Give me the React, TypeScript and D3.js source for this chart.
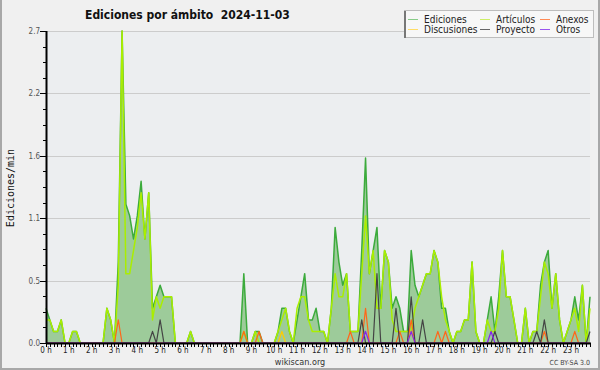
import React from 'react';
import * as d3 from 'd3';

// edits per minute, one value every 10 minutes (00:00 .. 23:50)
const ediciones = [
  0.3, 0.2, 0.1, 0.1, 0.2, 0, 0, 0.1, 0.1, 0, 0, 0,
  0, 0, 0, 0, 0.3, 0.2, 0, 0.7, 2.7, 1.2, 1.1, 0.9,
  1.1, 1.4, 0.9, 1.3, 0.3, 0.4, 0.5, 0.4, 0.4, 0.4, 0, 0,
  0, 0, 0.1, 0, 0, 0, 0, 0, 0, 0, 0, 0,
  0, 0, 0, 0, 0.6, 0, 0, 0.1, 0.1, 0, 0, 0,
  0, 0.1, 0.3, 0.3, 0.1, 0, 0.2, 0.4, 0.6, 0.2, 0.2, 0.3,
  0.1, 0.1, 0, 0.3, 1.0, 0.7, 0.5, 0.6, 0.1, 0.1, 0.1, 0.8,
  1.6, 0.6, 0.8, 1.0, 0.3, 0.8, 0.7, 0.3, 0.4, 0.3, 0.1, 0.1,
  0.8, 0.5, 0.4, 0.5, 0.6, 0.6, 0.8, 0.7, 0.3, 0.3, 0.1, 0,
  0.1, 0.1, 0.2, 0.2, 0.7, 0.1, 0, 0, 0.2, 0.4, 0.1, 0.4,
  0.8, 0.4, 0.4, 0.2, 0, 0, 0.3, 0, 0.1, 0.1, 0.5, 0.7,
  0.8, 0.3, 0.6, 0.2, 0, 0.1, 0.2, 0.4, 0.2, 0.5, 0, 0.4,
];

const articulos = [
  0.2, 0.2, 0.1, 0.1, 0.2, 0, 0, 0.1, 0.1, 0, 0, 0,
  0, 0, 0, 0, 0.3, 0.2, 0, 0.5, 2.7, 0.6, 0.6, 0.8,
  1.0, 1.3, 0.9, 1.3, 0.2, 0.4, 0.3, 0.4, 0.4, 0.4, 0, 0,
  0, 0, 0.1, 0, 0, 0, 0, 0, 0, 0, 0, 0,
  0, 0, 0, 0, 0.1, 0, 0, 0.1, 0, 0, 0, 0,
  0, 0.1, 0.2, 0.3, 0.1, 0, 0.3, 0.4, 0.4, 0.2, 0.1, 0.1,
  0.1, 0.1, 0, 0.3, 0.6, 0.4, 0.4, 0.6, 0.1, 0.1, 0.1, 0.6,
  1.1, 0.6, 0.8, 0.3, 0.3, 0.8, 0.7, 0.2, 0.1, 0.1, 0.1, 0.1,
  0.1, 0.3, 0.4, 0.5, 0.6, 0.6, 0.8, 0.7, 0.4, 0.2, 0.1, 0,
  0.1, 0.1, 0.2, 0.2, 0.7, 0.1, 0, 0, 0.2, 0.1, 0.1, 0.3,
  0.8, 0.4, 0.4, 0.2, 0, 0, 0.3, 0, 0.1, 0.1, 0.4, 0.7,
  0.6, 0.3, 0.6, 0.2, 0, 0.1, 0.2, 0.3, 0.1, 0.5, 0, 0.3,
];

const anexos = [
  0, 0, 0, 0, 0, 0, 0, 0, 0, 0, 0, 0,
  0, 0, 0, 0, 0, 0, 0, 0.2, 0, 0, 0, 0,
  0, 0, 0, 0, 0, 0, 0, 0, 0, 0, 0, 0,
  0, 0, 0, 0, 0, 0, 0, 0, 0, 0, 0, 0,
  0, 0, 0, 0, 0.1, 0, 0, 0, 0.1, 0, 0, 0,
  0, 0, 0, 0, 0, 0, 0, 0, 0, 0, 0, 0,
  0, 0, 0, 0, 0, 0, 0, 0, 0.1, 0, 0, 0,
  0.3, 0, 0, 0, 0, 0, 0, 0, 0, 0.1, 0, 0,
  0.2, 0, 0, 0, 0, 0, 0, 0.1, 0, 0.1, 0, 0,
  0, 0, 0, 0, 0, 0, 0, 0, 0, 0, 0, 0,
  0, 0, 0, 0, 0, 0, 0, 0, 0, 0, 0, 0.1,
  0, 0, 0, 0, 0, 0, 0, 0.1, 0, 0, 0, 0,
];

const discusiones = [
  0, 0, 0, 0, 0, 0, 0, 0, 0, 0, 0, 0,
  0, 0, 0, 0, 0, 0, 0, 0, 0, 0, 0, 0,
  0, 0, 0, 0, 0, 0, 0, 0, 0, 0, 0, 0,
  0, 0, 0, 0, 0, 0, 0, 0, 0, 0, 0, 0,
  0, 0, 0, 0, 0, 0, 0, 0, 0, 0, 0, 0,
  0, 0, 0.1, 0, 0, 0, 0, 0, 0, 0, 0, 0,
  0, 0, 0, 0, 0, 0, 0, 0, 0, 0, 0, 0,
  0, 0, 0, 0, 0, 0, 0, 0, 0, 0, 0, 0,
  0.1, 0, 0, 0, 0, 0, 0, 0, 0, 0, 0, 0,
  0, 0, 0, 0, 0, 0, 0, 0, 0, 0, 0, 0,
  0, 0, 0, 0, 0, 0, 0, 0, 0, 0, 0, 0,
  0, 0, 0, 0, 0, 0, 0, 0, 0, 0, 0, 0,
];

const proyecto = [
  0, 0, 0, 0, 0, 0, 0, 0, 0, 0, 0, 0,
  0, 0, 0, 0, 0, 0, 0, 0, 0, 0, 0, 0,
  0, 0, 0, 0, 0.1, 0, 0.2, 0, 0, 0, 0, 0,
  0, 0, 0, 0, 0, 0, 0, 0, 0, 0, 0, 0,
  0, 0, 0, 0, 0, 0, 0, 0, 0, 0, 0, 0,
  0, 0, 0, 0, 0, 0, 0, 0, 0, 0, 0, 0,
  0, 0, 0, 0, 0, 0, 0, 0, 0, 0, 0, 0.2,
  0, 0, 0, 0.6, 0, 0, 0, 0, 0.3, 0, 0, 0,
  0.4, 0, 0, 0.2, 0, 0, 0, 0, 0, 0, 0, 0,
  0, 0, 0, 0, 0, 0, 0, 0, 0, 0, 0.1, 0,
  0, 0, 0, 0, 0, 0, 0, 0, 0, 0.1, 0, 0.2,
  0, 0, 0, 0, 0, 0, 0, 0, 0, 0, 0, 0.1,
];

const otros = [
  0, 0, 0, 0, 0, 0, 0, 0, 0, 0, 0, 0,
  0, 0, 0, 0, 0, 0, 0, 0, 0, 0, 0, 0,
  0, 0, 0, 0, 0, 0, 0, 0, 0, 0, 0, 0,
  0, 0, 0, 0, 0, 0, 0, 0, 0, 0, 0, 0,
  0, 0, 0, 0, 0, 0, 0, 0, 0, 0, 0, 0,
  0, 0, 0, 0, 0, 0, 0, 0, 0, 0, 0, 0,
  0, 0, 0, 0, 0, 0, 0, 0, 0, 0, 0, 0,
  0.1, 0, 0, 0, 0, 0, 0, 0, 0, 0, 0, 0,
  0.1, 0, 0, 0, 0, 0, 0, 0, 0, 0, 0, 0,
  0, 0, 0, 0, 0, 0, 0, 0, 0, 0.1, 0, 0,
  0, 0, 0, 0, 0, 0, 0, 0, 0, 0, 0, 0,
  0, 0, 0, 0, 0, 0, 0, 0, 0, 0, 0, 0,
];

const hourLabels = d3.range(24).map(h => `${h} h`);
const yTickLabels = ['0.0', '0.5', '1.1', '1.6', '2.2', '2.7'];

const series = [
  { name: 'Ediciones', data: ediciones, color: '#3cab3c', legend: '#88cc88', width: 1.5 },
  { name: 'Artículos', data: articulos, color: '#aaee00', legend: '#cdee66', width: 1.5 },
  { name: 'Anexos', data: anexos, color: '#ff6619', legend: '#ff8a55', width: 1.2 },
  { name: 'Discusiones', data: discusiones, color: '#ffcc00', legend: '#ffdd66', width: 1.2 },
  { name: 'Proyecto', data: proyecto, color: '#444444', legend: '#666666', width: 1.2 },
  { name: 'Otros', data: otros, color: '#8822ee', legend: '#9955ee', width: 1.2 },
];

const W = 600;
const H = 370;
const left = 46, right = 590, top = 31, bottom = 343;
const cond = "'DejaVu Sans Condensed', 'DejaVu Sans', sans-serif";

export default function App() {
  const n = ediciones.length;
  const x = d3.scaleLinear().domain([0, n - 1]).range([left, right]);
  const y = d3.scaleLinear().domain([0, 2.7]).range([bottom, top]);

  const area = d3.area<number>().x((d, i) => x(i)).y0(y(0)).y1(d => y(d));
  const line = d3.line<number>().x((d, i) => x(i)).y(d => y(d));

  const majors = d3.range(6).map(k => (2.7 * k) / 5);
  const minors = d3.range(21).map(k => (2.7 * k) / 20);

  // legend layout: 3 columns x 2 rows, row-major
  const legCols = [408, 480, 540];
  const legRows = [19.5, 29.5];

  return (
    <svg width={W} height={H} style={{ display: 'block', position: 'absolute', left: 0, top: 0 }}>
      <rect x={0} y={0} width={W} height={H} fill="#f0f0f0" />
      <path d={`M1,0V${H - 1}H${W - 1}V0`} fill="none" stroke="#a8a8a8" strokeWidth={2} />

      <rect x={left} y={top} width={right - left} height={bottom - top} fill="#eceef0" />
      {majors.slice(1).map((v, i) => (
        <line key={i} x1={left} x2={right} y1={Math.round(y(v)) + 0.5} y2={Math.round(y(v)) + 0.5} stroke="#cccccc" />
      ))}

      <path d={area(ediciones) || ''} fill="#9dcb9a" />
      {series.map(s => (
        <path key={s.name} d={line(s.data) || ''} fill="none" stroke={s.color} strokeWidth={s.width} strokeLinejoin="round" />
      ))}

      {/* axes */}
      <line x1={left + 0.5} x2={left + 0.5} y1={top} y2={bottom + 1} stroke="#000" strokeWidth={2} />
      <line x1={left} x2={right + 1} y1={bottom + 0.5} y2={bottom + 0.5} stroke="#000" strokeWidth={2} />
      {minors.map((v, i) => (
        <line key={i} x1={left - (i % 4 === 0 ? 6 : 3)} x2={left} y1={Math.round(y(v)) + 0.5} y2={Math.round(y(v)) + 0.5} stroke="#000" />
      ))}
      {majors.map((v, i) => (
        <text key={i} x={left - 6} y={y(v) + 3} textAnchor="end" fontFamily={cond} fontSize={8} fill="#555">
          {yTickLabels[i]}
        </text>
      ))}
      {d3.range(n).map(i => (
        <line key={i} x1={Math.round(x(i)) + 0.5} x2={Math.round(x(i)) + 0.5} y1={bottom} y2={bottom + 4} stroke="#000" />
      ))}
      {hourLabels.map((h, i) => (
        <text key={h} x={x(i * 6)} y={353} textAnchor="middle" fontFamily={cond} fontSize={8} fill="#222">
          {h}
        </text>
      ))}

      <text transform={`translate(14,188) rotate(-90)`} textAnchor="middle" fontFamily="'DejaVu Sans Mono', monospace" fontSize={10} fill="#111">
        Ediciones/min
      </text>

      <text x={85} y={18.5} fontFamily={cond} fontWeight="bold" fontSize={12} fill="#111">
        Ediciones por ámbito{'\u00a0\u00a0'}2024-11-03
      </text>

      {/* legend */}
      <rect x={404.5} y={10.5} width={189} height={27} fill="#f7f7f7" stroke="#bdbdbd" />
      <line x1={405} x2={405} y1={11} y2={38} stroke="#777" strokeWidth={2} />
      {series.map((s, i) => {
        const cx = legCols[i % 3];
        const cy = legRows[Math.floor(i / 3)];
        return (
          <g key={s.name}>
            <line x1={cx} x2={cx + 10} y1={cy} y2={cy} stroke={s.legend} strokeWidth={1} />
            <text x={cx + 16} y={cy + 3.5} fontFamily={cond} fontSize={10} fill="#222">{s.name}</text>
          </g>
        );
      })}

      <text x={300} y={365} textAnchor="middle" fontFamily={cond} fontSize={9} fill="#333">wikiscan.org</text>
      <text x={590} y={365} textAnchor="end" fontFamily={cond} fontSize={7} fill="#444">CC BY-SA 3.0</text>
    </svg>
  );
}
